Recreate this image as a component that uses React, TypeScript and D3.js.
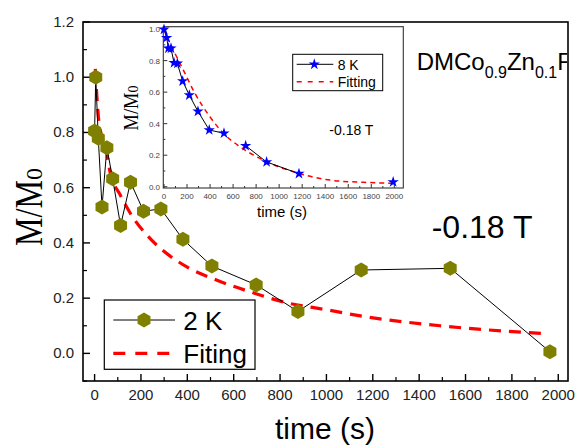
import React from "react";
import * as d3 from "d3";

// Main 2 K data (time s, M/M0)
const mainTime = [0, 5, 16, 32, 53, 78, 112, 155, 211, 286, 381, 506, 697, 877, 1150, 1534, 1964];
const mainValue = [0.805, 1.0, 0.779, 0.53, 0.745, 0.632, 0.463, 0.62, 0.515, 0.523, 0.413, 0.316, 0.248, 0.152, 0.302, 0.308, 0.006];
// Main fitting curve
const fitTime = [3, 10, 17, 30, 46, 68, 111, 168, 233, 398, 528, 700, 815, 1000, 1160, 1490, 1950];
const fitValue = [1.03, 0.93, 0.85, 0.79, 0.75, 0.652, 0.573, 0.489, 0.422, 0.313, 0.265, 0.215, 0.186, 0.158, 0.134, 0.1, 0.071];
// Inset 8 K data
const insetTime = [0, 23, 38, 61, 87, 116, 162, 220, 295, 393, 521, 709, 891, 1172, 1990];
const insetValue = [0.998, 0.945, 0.878, 0.878, 0.786, 0.782, 0.67, 0.581, 0.478, 0.36, 0.339, 0.26, 0.157, 0.083, 0.03];
const insetSegments = [[0, 10], [11, 13], [14, 14]];
// Inset fitting curve
const insetFitTime = [0, 40, 81, 168, 269, 399, 515, 660, 862, 1152, 1441, 1730, 1990];
const insetFitValue = [1.0, 0.93, 0.867, 0.74, 0.592, 0.444, 0.339, 0.254, 0.169, 0.089, 0.042, 0.028, 0.022];

const mainXTicks = [0, 200, 400, 600, 800, 1000, 1200, 1400, 1600, 1800, 2000];
const mainXMinor = [100, 300, 500, 700, 900, 1100, 1300, 1500, 1700, 1900];
const mainYTicks = [0.0, 0.2, 0.4, 0.6, 0.8, 1.0, 1.2];
const mainYMinor = [-0.1, 0.1, 0.3, 0.5, 0.7, 0.9, 1.1];
const insetXTicks = [0, 200, 400, 600, 800, 1000, 1200, 1400, 1600, 1800, 2000];
const insetXMinor = [100, 300, 500, 700, 900, 1100, 1300, 1500, 1700, 1900];
const insetYTicks = [0.0, 0.2, 0.4, 0.6, 0.8, 1.0];
const insetYMinor = [0.1, 0.3, 0.5, 0.7, 0.9];

const SANS = "'Liberation Sans', Arial, sans-serif";
const SERIF = "'Liberation Serif', 'Times New Roman', serif";
const OLIVE = "#808000";

function hexagon(cx: number, cy: number, r: number) {
  const pts = d3.range(6).map((i) => {
    const a = (Math.PI / 3) * i + Math.PI / 6;
    return [cx + r * Math.cos(a), cy + r * Math.sin(a)];
  });
  return "M" + pts.map((p) => p.join(",")).join("L") + "Z";
}

const starPath = d3.symbol().type(d3.symbolStar).size(40)() as string;

export default function App() {
  const x = d3.scaleLinear().domain([-50, 2042]).range([83, 568]);
  const y = d3.scaleLinear().domain([-0.1, 1.2]).range([381, 22]);
  const xi = d3.scaleLinear().domain([-6, 2078]).range([163.3, 403.3]);
  const yi = d3.scaleLinear().domain([-0.008, 1.015]).range([188, 26.7]);

  const mainLine = d3.line<number>().x((_, i) => x(mainTime[i])).y((d) => y(d))(mainValue) as string;
  const fitLine = d3.line<number>().x((_, i) => x(fitTime[i])).y((d) => y(d)).curve(d3.curveMonotoneX)(fitValue) as string;
  const insetFit = d3.line<number>().x((_, i) => xi(insetFitTime[i])).y((d) => yi(d)).curve(d3.curveMonotoneX)(insetFitValue) as string;

  const [x0, x1] = x.range();
  const [yb, yt] = y.range();
  const [ix0, ix1] = xi.range();
  const [iyb, iyt] = yi.range();

  return (
    <svg width={577} height={448} style={{ position: "absolute", left: 0, top: 0, background: "#fff" }}>
      <defs>
        <clipPath id="plotClip">
          <rect x={x0} y={yt} width={x1 - x0 - 1} height={yb - yt} />
        </clipPath>
      </defs>
      {/* main frame */}
      <rect x={x0} y={yt} width={x1 - x0} height={yb - yt} fill="none" stroke="#000" strokeWidth={1.6} />
      {/* main x ticks */}
      {mainXTicks.map((t) => (
        <g key={"mx" + t}>
          <line x1={x(t)} x2={x(t)} y1={yb} y2={yb - 7} stroke="#000" strokeWidth={1.4} />
          <text x={x(t)} y={400} textAnchor="middle" fontFamily={SANS} fontSize={15} fill="#222">{t}</text>
        </g>
      ))}
      {mainXMinor.map((t) => (
        <line key={"mxm" + t} x1={x(t)} x2={x(t)} y1={yb} y2={yb - 4} stroke="#000" strokeWidth={1.2} />
      ))}
      {mainYTicks.map((t) => (
        <g key={"my" + t}>
          <line x1={x0} x2={x0 + 7} y1={y(t)} y2={y(t)} stroke="#000" strokeWidth={1.4} />
          <text x={74} y={y(t) + 5} textAnchor="end" fontFamily={SANS} fontSize={15} fill="#222">{t.toFixed(1)}</text>
        </g>
      ))}
      {mainYMinor.map((t) => (
        <line key={"mym" + t} x1={x0} x2={x0 + 4} y1={y(t)} y2={y(t)} stroke="#000" strokeWidth={1.2} />
      ))}
      {/* axis titles */}
      <text x={325} y={439} textAnchor="middle" fontFamily={SANS} fontSize={30} fill="#000">time (s)</text>
      <text transform="translate(42,207) rotate(-90)" textAnchor="middle" fontFamily={SERIF} fontSize={40} fill="#000">
        <tspan textLength={66} lengthAdjust="spacingAndGlyphs">M/M</tspan>
        <tspan fontSize={24} dy={0}>0</tspan>
      </text>

      {/* main fit */}
      <path d={fitLine} fill="none" stroke="#ff0000" strokeWidth={3.2} strokeDasharray="12,8" />
      {/* main data */}
      <path d={mainLine} fill="none" stroke="#000" strokeWidth={1} />
      {mainValue.map((v, i) => (
        <path key={"mp" + i} d={hexagon(x(mainTime[i]), y(v), 7.5)} fill={OLIVE} />
      ))}

      {/* inset */}
      <rect x={ix0} y={iyt} width={ix1 - ix0} height={iyb - iyt} fill="#fff" stroke="#333" strokeWidth={1.1} />
      {insetXTicks.map((t) => (
        <g key={"ix" + t}>
          <line x1={xi(t)} x2={xi(t)} y1={iyb} y2={iyb - 4} stroke="#333" strokeWidth={1} />
          <text x={xi(t)} y={199} textAnchor="middle" fontFamily={SANS} fontSize={8} fill="#444">{t}</text>
        </g>
      ))}
      {insetXMinor.map((t) => (
        <line key={"ixm" + t} x1={xi(t)} x2={xi(t)} y1={iyb} y2={iyb - 2} stroke="#333" strokeWidth={1} />
      ))}
      {insetYTicks.map((t) => (
        <g key={"iy" + t}>
          <line x1={ix0} x2={ix0 + 4} y1={yi(t)} y2={yi(t)} stroke="#333" strokeWidth={1} />
          <text x={160} y={yi(t) + 3} textAnchor="end" fontFamily={SANS} fontSize={8} fill="#444">{t.toFixed(1)}</text>
        </g>
      ))}
      {insetYMinor.map((t) => (
        <line key={"iym" + t} x1={ix0} x2={ix0 + 2} y1={yi(t)} y2={yi(t)} stroke="#333" strokeWidth={1} />
      ))}
      <text x={282} y={217} textAnchor="middle" fontFamily={SANS} fontSize={15} fill="#000">time (s)</text>
      <text transform="translate(138,108) rotate(-90)" textAnchor="middle" fontFamily={SERIF} fontSize={22} fill="#000">
        <tspan textLength={38} lengthAdjust="spacingAndGlyphs">M/M</tspan>
        <tspan fontSize={14}>0</tspan>
      </text>
      <path d={insetFit} fill="none" stroke="#ff0000" strokeWidth={1.5} strokeDasharray="5,4" />
      {insetSegments.map(([a, b], k) => {
        const idx = d3.range(a, b + 1);
        const d = d3.line<number>().x((i) => xi(insetTime[i])).y((i) => yi(insetValue[i]))(idx) as string;
        return <path key={"seg" + k} d={d} fill="none" stroke="#000" strokeWidth={1} />;
      })}
      {insetValue.map((v, i) => (
        <path key={"ip" + i} d={starPath} transform={`translate(${xi(insetTime[i])},${yi(v)})`} fill="#0000ff" />
      ))}
      {/* inset legend */}
      <rect x={292.7} y={54.3} width={90} height={36.4} fill="#fff" stroke="#000" strokeWidth={1} />
      <line x1={296.7} x2={333.3} y1={64.3} y2={64.3} stroke="#000" strokeWidth={1} />
      <path d={starPath} transform="translate(314.3,64.3)" fill="#0000ff" />
      <line x1={296.7} x2={333.3} y1={81.7} y2={81.7} stroke="#ff0000" strokeWidth={1.5} strokeDasharray="5,6" />
      <text x={337.7} y={69.5} fontFamily={SANS} fontSize={14} fill="#000">8 K</text>
      <text x={337.7} y={87} fontFamily={SANS} fontSize={14} fill="#000">Fitting</text>
      <text x={329.3} y={135} fontFamily={SANS} fontSize={14} fill="#000">-0.18 T</text>

      {/* main annotations */}
      <g clipPath="url(#plotClip)">
        <text x={416.7} y={69.5} fontFamily={SANS} fontSize={24} fill="#000">
          DMCo<tspan fontSize={16} dy={8}>0.9</tspan><tspan dy={-8}>Zn</tspan><tspan fontSize={16} dy={8}>0.1</tspan><tspan dy={-8}>F</tspan>
        </text>
      </g>
      <text x={431.7} y={238} fontFamily={SANS} fontSize={32} fill="#000">-0.18 T</text>

      {/* main legend */}
      <rect x={104.3} y={300} width={150.7} height={69.3} fill="#fff" stroke="#000" strokeWidth={1.2} />
      <line x1={113.3} x2={175} y1={320} y2={320} stroke="#000" strokeWidth={1} />
      <path d={hexagon(144, 320, 7.5)} fill={OLIVE} />
      <line x1={113.3} x2={175} y1={353.3} y2={353.3} stroke="#ff0000" strokeWidth={3.2} strokeDasharray="12,10" />
      <text x={183.3} y={330} fontFamily={SANS} fontSize={26} fill="#000">2 K</text>
      <text x={183.3} y={363} fontFamily={SANS} fontSize={26} fill="#000">Fiting</text>
    </svg>
  );
}
